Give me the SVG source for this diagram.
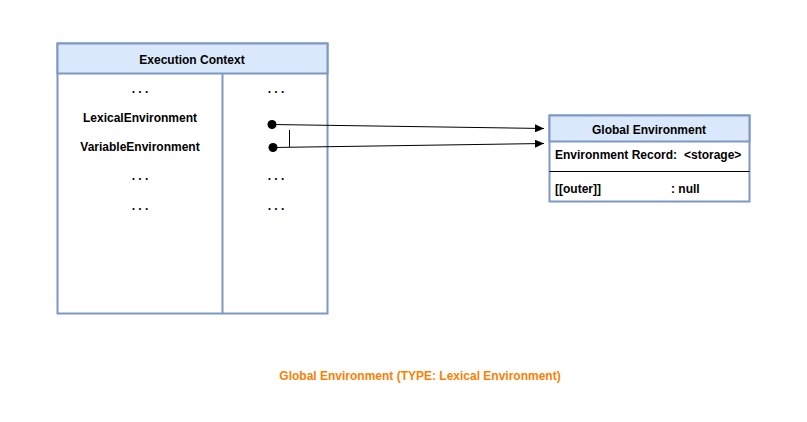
<svg xmlns="http://www.w3.org/2000/svg" width="807" height="422" viewBox="0 0 807 422">
<style>
text{font-family:"Liberation Sans",Arial,sans-serif;font-weight:bold;font-size:12px;fill:#000}
.box{fill:#fff;stroke:#7d98c4;stroke-width:2}
.hd{fill:#dae8fc;stroke:#7d98c4;stroke-width:2}
.c{stroke:#000;stroke-width:1;fill:none}
</style>
<defs><marker id="a" markerWidth="10" markerHeight="8" refX="9" refY="4" orient="auto" markerUnits="userSpaceOnUse"><path d="M0,0L9,4L0,8z" fill="#000"/></marker></defs>
<rect width="807" height="422" fill="#fff"/>
<g id="ec">
<rect class="box" x="57.5" y="43.5" width="270" height="270"/>
<rect class="hd" x="57.5" y="43.5" width="270" height="30"/>
<line x1="222.5" y1="73.5" x2="222.5" y2="313.5" stroke="#7d98c4" stroke-width="2"/>
<text x="192" y="64" text-anchor="middle" font-size="13">Execution Context</text>
<g text-anchor="middle">
<text x="140" y="93">. . .</text>
<text x="140" y="122">LexicalEnvironment</text>
<text x="140" y="151">VariableEnvironment</text>
<text x="140" y="180">. . .</text>
<text x="140" y="210">. . .</text>
<text x="276" y="93">. . .</text>
<text x="276" y="180">. . .</text>
<text x="276" y="210">. . .</text>
</g>
</g>
<g id="ge">
<rect class="box" x="549.5" y="115.5" width="200" height="86"/>
<rect class="hd" x="549.5" y="115.5" width="200" height="26"/>
<line x1="549.5" y1="171.5" x2="749.5" y2="171.5" stroke="#000"/>
<text x="649" y="134" text-anchor="middle" font-size="13">Global Environment</text>
<text x="555" y="159">Environment Record:  <tspan x="684">&lt;storage&gt;</tspan></text>
<text x="555" y="193">[[outer]]</text>
<text x="671" y="193">:  null</text>
</g>
<g id="connectors">
<circle cx="272" cy="124.5" r="4.5"/>
<circle cx="273" cy="147.5" r="4.5"/>
<path class="c" d="M272,124.5L544,128.5" marker-end="url(#a)"/>
<path class="c" d="M273,147.5L544,143.5" marker-end="url(#a)"/>
<path class="c" d="M289.5,130V147"/>
</g>
<text x="420" y="380" text-anchor="middle" font-size="14" style="fill:#ff8000">Global Environment  (TYPE: Lexical Environment)</text>
</svg>
